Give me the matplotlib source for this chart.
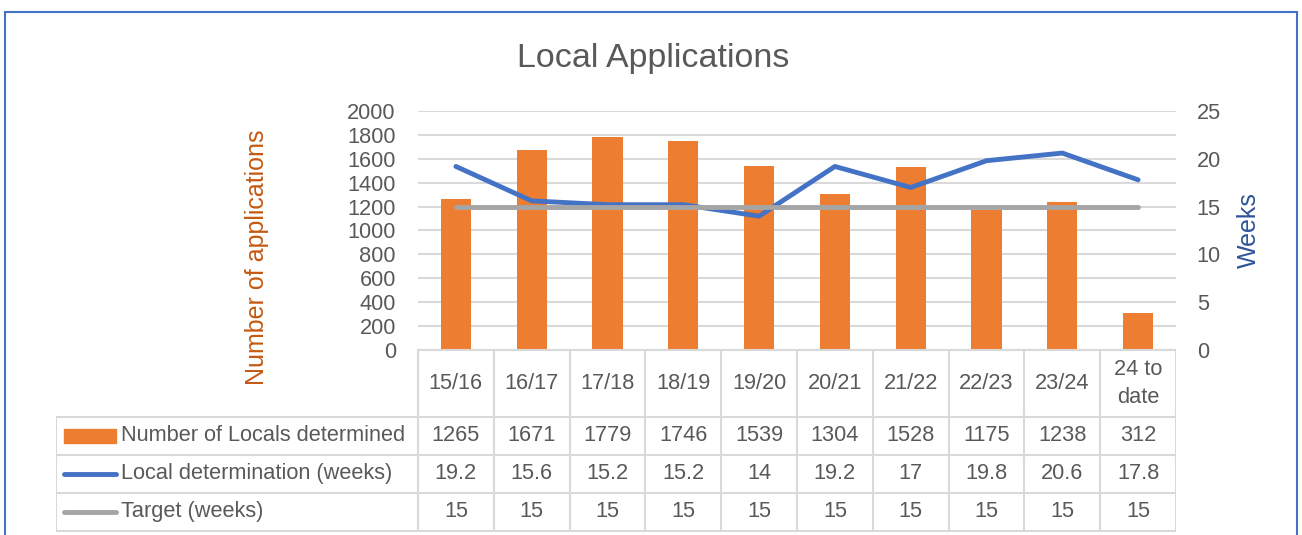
import matplotlib.pyplot as plt
from matplotlib.patches import Rectangle

# data
years = ["15/16", "16/17", "17/18", "18/19", "19/20", "20/21", "21/22", "22/23", "23/24", "24 to\ndate"]
locals_determined = [1265, 1671, 1779, 1746, 1539, 1304, 1528, 1175, 1238, 312]
determination_weeks = [19.2, 15.6, 15.2, 15.2, 14, 19.2, 17, 19.8, 20.6, 17.8]
target_weeks = [15, 15, 15, 15, 15, 15, 15, 15, 15, 15]
series_names = ["Number of Locals determined", "Local determination (weeks)", "Target (weeks)"]

ORANGE = "#ED7D31"
BLUE = "#4472C4"
GREY = "#A5A5A5"
TXT = "#595959"
GRID = "#D9D9D9"
FS = 15.7

plt.rcParams['font.family'] = ['Liberation Sans', 'DejaVu Sans']

W, H = 1302, 535
fig = plt.figure(figsize=(W / 100, H / 100), dpi=100)

def box(x0, y0, x1, y1):
    # pixel box (top-left origin) -> figure fraction
    return [x0 / W, 1 - y1 / H, (x1 - x0) / W, (y1 - y0) / H]

x = list(range(len(years)))

ax = fig.add_axes(box(418, 111, 1176, 350))
ax.bar(x, locals_determined, width=0.4, color=ORANGE, zorder=2)
ax.set_xlim(-0.5, len(years) - 0.5)
ax.set_ylim(0, 2000)
ax.set_yticks(range(0, 2001, 200))
ax.set_xticks([])
ax.grid(axis="y", color=GRID, lw=1.5, zorder=0)
ax.tick_params(axis="y", length=0, labelsize=FS, labelcolor=TXT, pad=16)
for s in ax.spines.values():
    s.set_visible(False)
ax.set_ylabel("Number of applications", fontsize=18, color="#C55A11")
ax.yaxis.set_label_coords(-0.196, 0.39)

ax2 = ax.twinx()
ax2.plot(x, determination_weeks, color=BLUE, lw=3.5, solid_capstyle="round", zorder=3)
ax2.plot(x, target_weeks, color=GREY, lw=3.5, solid_capstyle="round", zorder=4)
ax2.set_ylim(0, 25)
ax2.set_yticks(range(0, 26, 5))
ax2.tick_params(axis="y", length=0, labelsize=FS, labelcolor=TXT, pad=15)
for s in ax2.spines.values():
    s.set_visible(False)
ax2.set_ylabel("Weeks", fontsize=18, color="#2F5597")
ax2.yaxis.set_label_coords(1.08, 0.5)

fig.text(653 / W, 1 - 58 / H, "Local Applications", ha="center", va="center",
         fontsize=24.5, color=TXT)

# data table below the plot
n = len(years)
colw = (1176 - 418) / n
left_units = (418 - 56) / colw
tab = fig.add_axes(box(56, 348, 1176, 535))
tab.set_xlim(-0.5 - left_units, n - 0.5)
tab.set_ylim(535, 348)
tab.axis("off")

rows = [350, 417, 455, 493, 531]
lw = 1.5
# horizontal lines
tab.plot([-0.5, n - 0.5], [rows[0], rows[0]], color=GRID, lw=lw)
for r in rows[1:]:
    tab.plot([-0.5 - left_units, n - 0.5], [r, r], color=GRID, lw=lw)
# vertical lines
for i in range(n + 1):
    tab.plot([i - 0.5, i - 0.5], [rows[0], rows[-1]], color=GRID, lw=lw)
tab.plot([-0.5 - left_units] * 2, [rows[1], rows[-1]], color=GRID, lw=lw)

for i, lab in enumerate(years):
    tab.text(i, (rows[0] + rows[1]) / 2, lab, ha="center", va="center",
             fontsize=FS, color=TXT, linespacing=1.45)

row_vals = [locals_determined, determination_weeks, target_weeks]
for k, vals in enumerate(row_vals):
    yc = (rows[k + 1] + rows[k + 2]) / 2
    for i, v in enumerate(vals):
        tab.text(i, yc, f"{v:g}", ha="center", va="center", fontsize=FS, color=TXT)
    tab.text(-0.5 - left_units + 65 / colw, yc, series_names[k], ha="left",
             va="center", fontsize=FS, color=TXT)

key_x0 = -0.5 - left_units + 8 / colw
key_x1 = -0.5 - left_units + 60 / colw
yc0 = (rows[1] + rows[2]) / 2
tab.add_patch(Rectangle((key_x0, yc0 - 7), key_x1 - key_x0, 14, color=ORANGE))
for k, c in [(1, BLUE), (2, GREY)]:
    yc = (rows[k + 1] + rows[k + 2]) / 2
    tab.plot([key_x0, key_x1], [yc, yc], color=c, lw=3.5, solid_capstyle="round")

# chart border
fig.add_artist(Rectangle((5 / W, -0.01), (1297 - 5) / W, 1 - 12 / H + 0.01,
                         transform=fig.transFigure, fill=False, ec=BLUE, lw=1.5))

fig.savefig("out.png", dpi=100)
